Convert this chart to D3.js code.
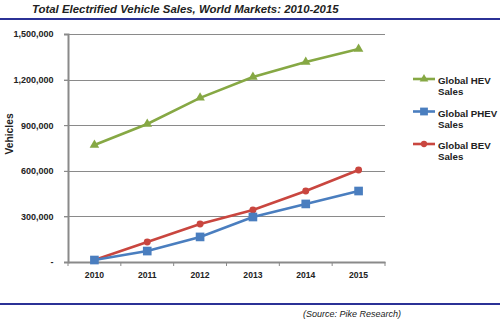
<!DOCTYPE html>
<html>
<head>
<meta charset="utf-8">
<script src="https://cdn.jsdelivr.net/npm/d3@7"></script>
<style>
  html, body { margin: 0; padding: 0; background: #fff; }
  svg { display: block; font-family: Arial, "Liberation Sans", sans-serif; }
</style>
</head>
<body>
<svg id="chart" width="500" height="326"></svg>
<script>
// Sales data (vehicles per year)
const years = ["2010", "2011", "2012", "2013", "2014", "2015"];
const hevSales  = [770000, 908000, 1080000, 1217000, 1316000, 1401000];
const phevSales = [13000, 72000, 165000, 296000, 382000, 467000];
const bevSales  = [13000, 132000, 250000, 342000, 467000, 605000];
const yTicks = [0, 300000, 600000, 900000, 1200000, 1500000];
const seriesNames = ["Global HEV Sales", "Global PHEV Sales", "Global BEV Sales"];

const svg = d3.select("#chart");
const plotLeft = 68, plotRight = 385, plotTop = 34, plotBottom = 262;
const font = "Arial, 'Liberation Sans', sans-serif";

const x = d3.scaleBand().domain(years).range([plotLeft, plotRight]);
const y = d3.scaleLinear().domain([0, 1500000]).range([plotBottom, plotTop]);

// Title and rules
svg.append("text").attr("x", 32).attr("y", 13.3)
  .attr("font-size", 11.4).attr("font-weight", "bold").attr("font-style", "italic")
  .attr("fill", "#222")
  .text("Total Electrified Vehicle Sales, World Markets: 2010-2015");
svg.append("line").attr("x1", 0).attr("x2", 500).attr("y1", 19).attr("y2", 19)
  .attr("stroke", "#2b3196").attr("stroke-width", 2);
svg.append("line").attr("x1", 0).attr("x2", 500).attr("y1", 304).attr("y2", 304)
  .attr("stroke", "#2b3196").attr("stroke-width", 2);
svg.append("text").attr("x", 303).attr("y", 316.5)
  .attr("font-size", 9).attr("font-style", "italic").attr("fill", "#222")
  .text("(Source: Pike Research)");

// Gridlines
svg.append("g").selectAll("line").data(yTicks.slice(1)).join("line")
  .attr("x1", plotLeft - 4).attr("x2", plotRight)
  .attr("y1", d => Math.round(y(d)) + 0.5).attr("y2", d => Math.round(y(d)) + 0.5)
  .attr("stroke", "#8a8a8a").attr("stroke-width", 1);

// Y axis
const yAxis = svg.append("g").attr("transform", `translate(${plotLeft},0)`)
  .call(d3.axisLeft(y).tickValues(yTicks).tickSize(4).tickPadding(10.5)
    .tickFormat(d => d === 0 ? "-" : d3.format(",")(d)));
yAxis.select(".domain").attr("stroke", "#8a8a8a").attr("stroke-width", 2);
yAxis.selectAll(".tick line").attr("stroke", "#8a8a8a");
yAxis.selectAll(".tick text").attr("font-size", 9).attr("font-weight", "bold")
  .attr("fill", "#222").attr("font-family", font);

// X axis
const xAxis = svg.append("g").attr("transform", `translate(0,${plotBottom})`)
  .call(d3.axisBottom(x).tickSize(0).tickPadding(10));
xAxis.select(".domain").attr("stroke", "#8a8a8a").attr("stroke-width", 2);
xAxis.selectAll(".tick text").attr("font-size", 8.6).attr("font-weight", "bold")
  .attr("fill", "#222").attr("font-family", font);
// category separator ticks
svg.append("g").selectAll("line").data(years.concat(["end"])).join("line")
  .attr("x1", (d, i) => plotLeft + i * x.step()).attr("x2", (d, i) => plotLeft + i * x.step())
  .attr("y1", plotBottom).attr("y2", plotBottom + 4)
  .attr("stroke", "#8a8a8a").attr("stroke-width", 1);

// Y axis title
svg.append("text")
  .attr("transform", "translate(12.5,134) rotate(-90)")
  .attr("text-anchor", "middle").attr("font-size", 10.3).attr("font-weight", "bold")
  .attr("fill", "#222").text("Vehicles");

const cx = d => x(d) + x.bandwidth() / 2;
const series = [
  { values: hevSales, color: "#86a844", marker: "triangle" },
  { values: phevSales, color: "#4a7ebf", marker: "square" },
  { values: bevSales, color: "#c9463f", marker: "circle" }
];
const markerPath = {
  triangle: d3.symbol(d3.symbolTriangle, 40)(),
  square: d3.symbol(d3.symbolSquare, 75)(),
  circle: d3.symbol(d3.symbolCircle, 38)()
};

const line = d3.line().x((d, i) => cx(years[i])).y(d => y(d));

// HEV first, then BEV, then PHEV on top
[0, 2, 1].forEach(k => {
  const s = series[k];
  const g = svg.append("g");
  g.append("path").datum(s.values).attr("d", line)
    .attr("fill", "none").attr("stroke", s.color).attr("stroke-width", 2.6);
  g.selectAll("path.m").data(s.values).join("path").attr("class", "m")
    .attr("d", markerPath[s.marker])
    .attr("transform", (d, i) => `translate(${cx(years[i])},${y(d)})`)
    .attr("fill", s.color);
});

// Legend
const legend = svg.append("g");
series.forEach((s, i) => {
  const ly = 84 + i * 32.5;
  const g = legend.append("g").attr("transform", `translate(0,${ly})`);
  g.append("line").attr("x1", 413).attr("x2", 435).attr("y1", -5).attr("y2", -5)
    .attr("stroke", s.color).attr("stroke-width", 2.6);
  g.append("path").attr("d", markerPath[s.marker])
    .attr("transform", "translate(424,-5) scale(0.9)").attr("fill", s.color);
  const words = seriesNames[i].split(" ");
  const t = g.append("text").attr("x", 438).attr("y", 0)
    .attr("font-size", 9.7).attr("font-weight", "bold").attr("fill", "#222");
  t.append("tspan").attr("x", 438).attr("dy", 0).text(words.slice(0, 2).join(" "));
  t.append("tspan").attr("x", 438).attr("dy", 11).text(words.slice(2).join(" "));
});
</script>
</body>
</html>
